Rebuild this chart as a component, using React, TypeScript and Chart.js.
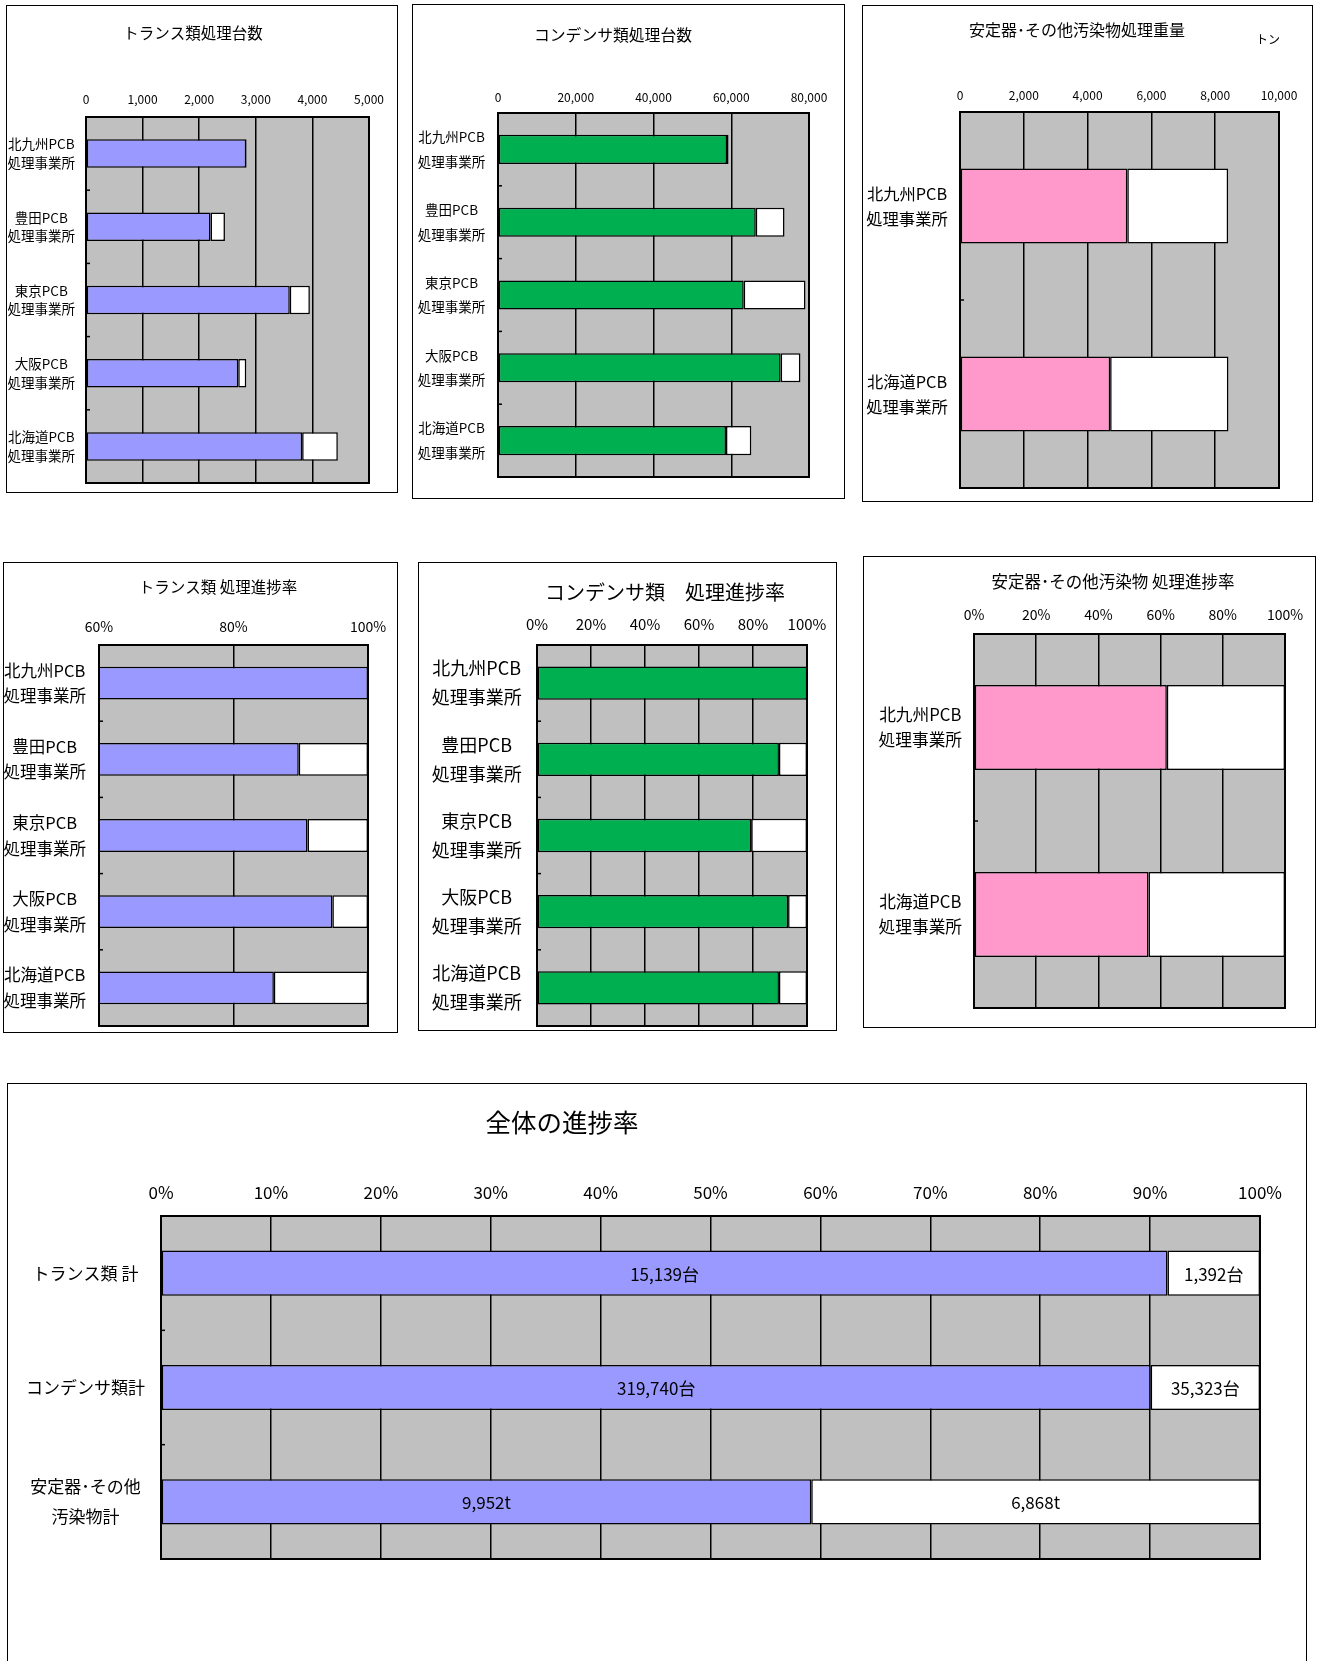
import React, { useEffect, useRef } from 'react';
import { Chart, registerables } from 'chart.js';

Chart.register(...registerables);

const FONT = '"Noto Sans CJK JP", "Noto Sans", sans-serif';

// ---------- categories ----------
const facilities5: string[][] = [
  ['北九州PCB', '処理事業所'],
  ['豊田PCB', '処理事業所'],
  ['東京PCB', '処理事業所'],
  ['大阪PCB', '処理事業所'],
  ['北海道PCB', '処理事業所'],
];
const facilities2: string[][] = [
  ['北九州PCB', '処理事業所'],
  ['北海道PCB', '処理事業所'],
];
const overallCategories: string[][] = [['トランス類 計'], ['コンデンサ類計'], ['安定器･その他', '汚染物計']];

// ---------- トランス類処理台数 (台) ----------
const transDone = [2830, 2200, 3600, 2690, 3819];
const transLeft = [10, 255, 355, 142, 630];

// ---------- コンデンサ類処理台数 (台) ----------
const condDone = [58900, 66300, 63200, 72700, 58640];
const condLeft = [400, 7400, 15900, 5100, 6523];

// ---------- 安定器・その他汚染物処理重量 (トン) ----------
const stabDone = [5245, 4707];
const stabLeft = [3160, 3708];

// ---------- 処理進捗率 (%) ----------
const transRateDone = [100, 89.7, 91.0, 94.7, 86.0];
const transRateLeft = [0, 10.3, 9.0, 5.3, 14.0];
const condRateDone = [100, 89.6, 79.3, 93.0, 89.6];
const condRateLeft = [0, 10.4, 20.7, 7.0, 10.4];
const stabRateDone = [62.0, 56.1];
const stabRateLeft = [38.0, 43.9];

// ---------- 全体の進捗率 ----------
const overallDone = [15139, 319740, 9952];
const overallLeft = [1392, 35323, 6868];
const overallUnits = ['台', '台', 't'];

// ---------- tick axes ----------
const transAxis = { min: 0, max: 5000, step: 1000 };
const condAxis = { min: 0, max: 80000, step: 20000 };
const stabAxis = { min: 0, max: 10000, step: 2000 };
const transRateAxis = { min: 60, max: 100, step: 20 };
const pctAxis = { min: 0, max: 100, step: 20 };
const overallAxis = { min: 0, max: 100, step: 10 };

const PURPLE = '#9999FF';
const GREEN = '#00B050';
const PINK = '#FF99CC';
const GRAY = '#C0C0C0';

const numFmt = (v: number) => v.toLocaleString('en-US');
const pctFmt = (v: number) => `${v}%`;

type TextItem = { text: string; x: number; y: number; size: number };
type Spec = {
  frame: [number, number, number, number];
  plot: [number, number, number, number];
  texts: TextItem[];
  labels: string[][];
  done: number[];
  rest: number[];
  color: string;
  axis: { min: number; max: number; step: number };
  fmt: (v: number) => string;
  tickY: number;
  tickSize: number;
  catSize: number;
  catLine: number;
  catPad: number;
  barPct: number;
  dataLabels?: [string[], string[]];
  dataLabelSize?: number;
};

function zeroPad(s: any) {
  s.paddingTop = 0;
  s.paddingBottom = 0;
  s.paddingLeft = 0;
  s.paddingRight = 0;
}

function Panel({ spec }: { spec: Spec }) {
  const ref = useRef<HTMLCanvasElement>(null);
  const [fl, ft, fr, fb] = spec.frame;
  const ox = fl + 1;
  const oy = ft + 1;
  const cw = fr - fl - 2;
  const ch = fb - ft - 2;

  useEffect(() => {
    const [PL, PT, PR, PB] = spec.plot;
    const pl = PL - ox;
    const pt = PT - oy;
    const pr = PR - ox;
    const pb = PB - oy;
    const tickPad = pt - (spec.tickY - oy) - spec.tickSize * 0.6;
    const n = spec.labels.length;

    const deco = {
      id: 'deco',
      beforeDraw(c: any) {
        const a = c.chartArea;
        const ctx = c.ctx;
        ctx.save();
        ctx.fillStyle = GRAY;
        ctx.fillRect(a.left, a.top, a.right - a.left, a.bottom - a.top);
        ctx.restore();
      },
      afterDatasetsDraw(c: any) {
        const a = c.chartArea;
        const ctx = c.ctx;
        ctx.save();
        ctx.strokeStyle = '#000';
        ctx.lineWidth = 1.5;
        const ys = c.scales.y;
        for (let i = 0; i < n - 1; i++) {
          const y = ys.getPixelForValue(i + 0.5);
          ctx.beginPath();
          ctx.moveTo(a.left, y);
          ctx.lineTo(a.left + 4, y);
          ctx.stroke();
        }
        if (spec.dataLabels) {
          ctx.fillStyle = '#000';
          ctx.font = `${spec.dataLabelSize}px ${FONT}`;
          ctx.textAlign = 'center';
          ctx.textBaseline = 'middle';
          for (let d = 0; d < 2; d++) {
            const meta = c.getDatasetMeta(d);
            meta.data.forEach((el: any, i: number) => {
              const p = el.getProps(['x', 'base', 'y'], true);
              const left = Math.max(Math.min(p.x, p.base), a.left);
              const right = Math.min(Math.max(p.x, p.base), a.right);
              ctx.fillText(spec.dataLabels![d][i], (left + right) / 2, p.y + 1);
            });
          }
        }
        ctx.restore();
      },
      afterDraw(c: any) {
        const a = c.chartArea;
        const ctx = c.ctx;
        ctx.save();
        ctx.strokeStyle = '#000';
        ctx.lineWidth = 2;
        ctx.strokeRect(a.left, a.top, a.right - a.left, a.bottom - a.top);
        ctx.fillStyle = '#000';
        ctx.textAlign = 'center';
        ctx.textBaseline = 'middle';
        spec.texts.forEach((t) => {
          ctx.font = `${t.size}px ${FONT}`;
          ctx.fillText(t.text, t.x - ox, t.y - oy);
        });
        ctx.restore();
      },
    };

    const dsCommon = {
      borderColor: '#000',
      borderWidth: 1.5,
      borderSkipped: false,
      barPercentage: spec.barPct,
      categoryPercentage: 1,
      clip: { left: 0, right: 2, top: 2, bottom: 2 },
    };

    const chart = new Chart(ref.current as HTMLCanvasElement, {
      type: 'bar',
      data: {
        labels: spec.labels,
        datasets: [
          { ...dsCommon, data: spec.done, backgroundColor: spec.color } as any,
          { ...dsCommon, data: spec.rest, backgroundColor: '#FFFFFF' } as any,
        ],
      },
      options: {
        indexAxis: 'y',
        responsive: false,
        animation: false,
        devicePixelRatio: 1,
        layout: { padding: { left: 0, top: 0, right: cw - pr, bottom: ch - pb } },
        plugins: {
          legend: { display: false },
          tooltip: { enabled: false },
          title: { display: false },
        },
        scales: {
          x: {
            position: 'top',
            stacked: true,
            min: spec.axis.min,
            max: spec.axis.max,
            ticks: {
              stepSize: spec.axis.step,
              autoSkip: false,
              maxRotation: 0,
              padding: tickPad,
              color: '#000',
              font: { family: FONT, size: spec.tickSize },
              callback: (v: any) => spec.fmt(Number(v)),
            },
            grid: { color: '#000', lineWidth: 1.5, drawTicks: false },
            border: { display: false },
            afterFit: (s: any) => {
              s.height = pt;
              zeroPad(s);
            },
          },
          y: {
            stacked: true,
            ticks: {
              crossAlign: 'center',
              autoSkip: false,
              padding: spec.catPad,
              color: '#000',
              font: { family: FONT, size: spec.catSize, lineHeight: spec.catLine / spec.catSize },
            },
            grid: { display: false, drawTicks: false },
            border: { display: false },
            afterFit: (s: any) => {
              s.width = pl;
              zeroPad(s);
            },
          },
        },
      } as any,
      plugins: [deco],
    });
    return () => chart.destroy();
  }, []);

  return (
    <div
      style={{
        position: 'absolute',
        left: fl,
        top: ft,
        width: fr - fl,
        height: fb - ft,
        border: '1px solid #000',
        boxSizing: 'border-box',
        background: '#fff',
      }}
    >
      <canvas ref={ref} width={cw} height={ch} style={{ position: 'absolute', left: 0, top: 0, width: cw, height: ch }} />
    </div>
  );
}

const overallTotal = overallDone.map((d, i) => d + overallLeft[i]);
const overallDonePct = overallDone.map((d, i) => (d / overallTotal[i]) * 100);
const overallLeftPct = overallLeft.map((d, i) => (d / overallTotal[i]) * 100);

const specs: Spec[] = [
  {
    frame: [6, 5, 398, 493],
    plot: [86, 117, 369, 483],
    texts: [{ text: 'トランス類処理台数', x: 193, y: 33, size: 15.5 }],
    labels: facilities5,
    done: transDone,
    rest: transLeft,
    color: PURPLE,
    axis: transAxis,
    fmt: numFmt,
    tickY: 99,
    tickSize: 12,
    catSize: 13.5,
    catLine: 18.7,
    catPad: 11,
    barPct: 0.39,
  },
  {
    frame: [412, 4, 845, 499],
    plot: [498, 113, 809, 477],
    texts: [{ text: 'コンデンサ類処理台数', x: 613, y: 35, size: 15.8 }],
    labels: facilities5,
    done: condDone,
    rest: condLeft,
    color: GREEN,
    axis: condAxis,
    fmt: numFmt,
    tickY: 97,
    tickSize: 12,
    catSize: 13.5,
    catLine: 24.7,
    catPad: 12.7,
    barPct: 0.4,
  },
  {
    frame: [862, 5, 1313, 502],
    plot: [960, 112, 1279, 488],
    texts: [
      { text: '安定器･その他汚染物処理重量', x: 1077, y: 30, size: 16 },
      { text: 'トン', x: 1268, y: 39, size: 12 },
    ],
    labels: facilities2,
    done: stabDone,
    rest: stabLeft,
    color: PINK,
    axis: stabAxis,
    fmt: numFmt,
    tickY: 95,
    tickSize: 12,
    catSize: 16.3,
    catLine: 25,
    catPad: 12.3,
    barPct: 0.4,
  },
  {
    frame: [3, 562, 398, 1033],
    plot: [99, 645, 368, 1026],
    texts: [{ text: 'トランス類 処理進捗率', x: 218, y: 587, size: 15.5 }],
    labels: facilities5,
    done: transRateDone,
    rest: transRateLeft,
    color: PURPLE,
    axis: transRateAxis,
    fmt: pctFmt,
    tickY: 627,
    tickSize: 14,
    catSize: 16.5,
    catLine: 25.7,
    catPad: 13,
    barPct: 0.43,
  },
  {
    frame: [418, 562, 837, 1031],
    plot: [537, 645, 807, 1026],
    texts: [{ text: 'コンデンサ類\u3000処理進捗率', x: 665, y: 592, size: 20 }],
    labels: facilities5,
    done: condRateDone,
    rest: condRateLeft,
    color: GREEN,
    axis: pctAxis,
    fmt: pctFmt,
    tickY: 624,
    tickSize: 15,
    catSize: 18,
    catLine: 29,
    catPad: 15.3,
    barPct: 0.437,
  },
  {
    frame: [863, 556, 1316, 1028],
    plot: [974, 634, 1285, 1008],
    texts: [{ text: '安定器･その他汚染物 処理進捗率', x: 1113, y: 582, size: 16.5 }],
    labels: facilities2,
    done: stabRateDone,
    rest: stabRateLeft,
    color: PINK,
    axis: pctAxis,
    fmt: pctFmt,
    tickY: 615,
    tickSize: 14,
    catSize: 16.7,
    catLine: 25,
    catPad: 12,
    barPct: 0.455,
  },
  {
    frame: [7, 1083, 1307, 1700],
    plot: [161, 1216, 1260, 1559],
    texts: [{ text: '全体の進捗率', x: 562, y: 1122, size: 25.5 }],
    labels: overallCategories,
    done: overallDonePct,
    rest: overallLeftPct,
    color: PURPLE,
    axis: overallAxis,
    fmt: pctFmt,
    tickY: 1193,
    tickSize: 17,
    catSize: 17,
    catLine: 29.6,
    catPad: 16,
    barPct: 0.395,
    dataLabels: [
      overallDone.map((v, i) => `${numFmt(v)}${overallUnits[i]}`),
      overallLeft.map((v, i) => `${numFmt(v)}${overallUnits[i]}`),
    ],
    dataLabelSize: 17,
  },
];

export default function App() {
  useEffect(() => {
    document.body.style.margin = '0';
  }, []);
  return (
    <div
      style={{
        position: 'absolute',
        left: 0,
        top: 0,
        width: 1319,
        height: 1661,
        overflow: 'hidden',
        background: '#fff',
      }}
    >
      {specs.map((s, i) => (
        <Panel key={i} spec={s} />
      ))}
    </div>
  );
}
